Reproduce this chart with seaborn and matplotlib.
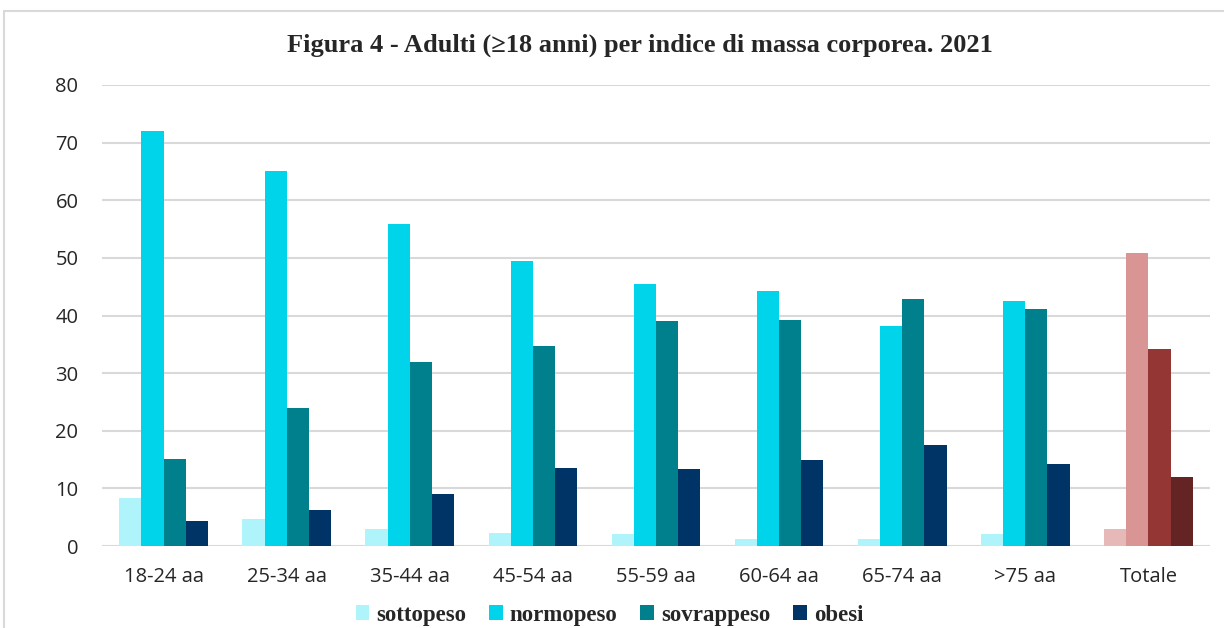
import pandas as pd
import matplotlib.pyplot as plt
import matplotlib.patches as mpatches
import seaborn as sns

categories = ['18-24 aa', '25-34 aa', '35-44 aa', '45-54 aa', '55-59 aa',
              '60-64 aa', '65-74 aa', '>75 aa', 'Totale']
series = ['sottopeso', 'normopeso', 'sovrappeso', 'obesi']

sottopeso = [8.3, 4.6, 2.9, 2.2, 2.0, 1.2, 1.2, 2.0, 2.9]
normopeso = [72.1, 65.0, 55.8, 49.4, 45.5, 44.2, 38.2, 42.5, 50.9]
sovrappeso = [15.1, 24.0, 32.0, 34.7, 39.1, 39.3, 42.9, 41.1, 34.2]
obesi = [4.3, 6.2, 9.1, 13.5, 13.3, 14.9, 17.6, 14.2, 12.0]

colors = ['#B0F4FB', '#00D4EA', '#007F8C', '#003366']
totale_colors = ['#E6B9B8', '#D99594', '#943634', '#632423']

rows = []
for name, vals in zip(series, [sottopeso, normopeso, sovrappeso, obesi]):
    for cat, v in zip(categories, vals):
        rows.append({'Classe': cat, 'BMI': name, 'Valore': v})
df = pd.DataFrame(rows)

sns.set_style("white")

fig = plt.figure(figsize=(12.24, 6.28), dpi=100)
ax = fig.add_axes([102 / 1224, 1 - 546 / 628, 1108 / 1224, 461 / 628])

sns.barplot(
    data=df,
    x='Classe',
    y='Valore',
    hue='BMI',
    palette=colors,
    width=0.72,
    saturation=1,
    linewidth=0,
    ax=ax,
    zorder=3
)

# Totale group drawn in red tones
for cont, c in zip(ax.containers, totale_colors):
    cont.patches[-1].set_facecolor(c)

ax.set_ylim(0, 80)
ax.set_yticks(range(0, 81, 10))
ax.yaxis.grid(True, color='#D9D9D9', linewidth=1.5, zorder=0)
ax.set_axisbelow(True)
for s in ax.spines.values():
    s.set_visible(False)
ax.set_xlabel('')
ax.set_ylabel('')
ax.tick_params(axis='both', length=0, labelsize=14.5)
ax.tick_params(axis='x', pad=15)
ax.tick_params(axis='y', pad=17)
for lab in ax.get_xticklabels() + ax.get_yticklabels():
    lab.set_fontfamily('Open Sans')

ax.legend(
    loc='center',
    bbox_to_anchor=(0.458, -0.15),
    ncol=4,
    frameon=False,
    prop={'family': 'Liberation Serif', 'weight': 'bold', 'size': 16.5},
    handlelength=0.6,
    handleheight=0.6,
    handletextpad=0.3,
    columnspacing=1.0
)

fig.text(
    0.523, 1 - 45 / 628,
    'Figura 4 - Adulti (\u226518 anni) per indice di massa corporea. 2021',
    ha='center', va='center',
    fontsize=19, fontweight='bold', family='Liberation Serif'
)

fig.patches.append(mpatches.Rectangle(
    (4 / 1224, -0.05), 1.2, 1 - 11 / 628 + 0.05,
    transform=fig.transFigure, fill=False,
    edgecolor='#D9D9D9', linewidth=1.5
))

plt.savefig('out.png', dpi=100)
